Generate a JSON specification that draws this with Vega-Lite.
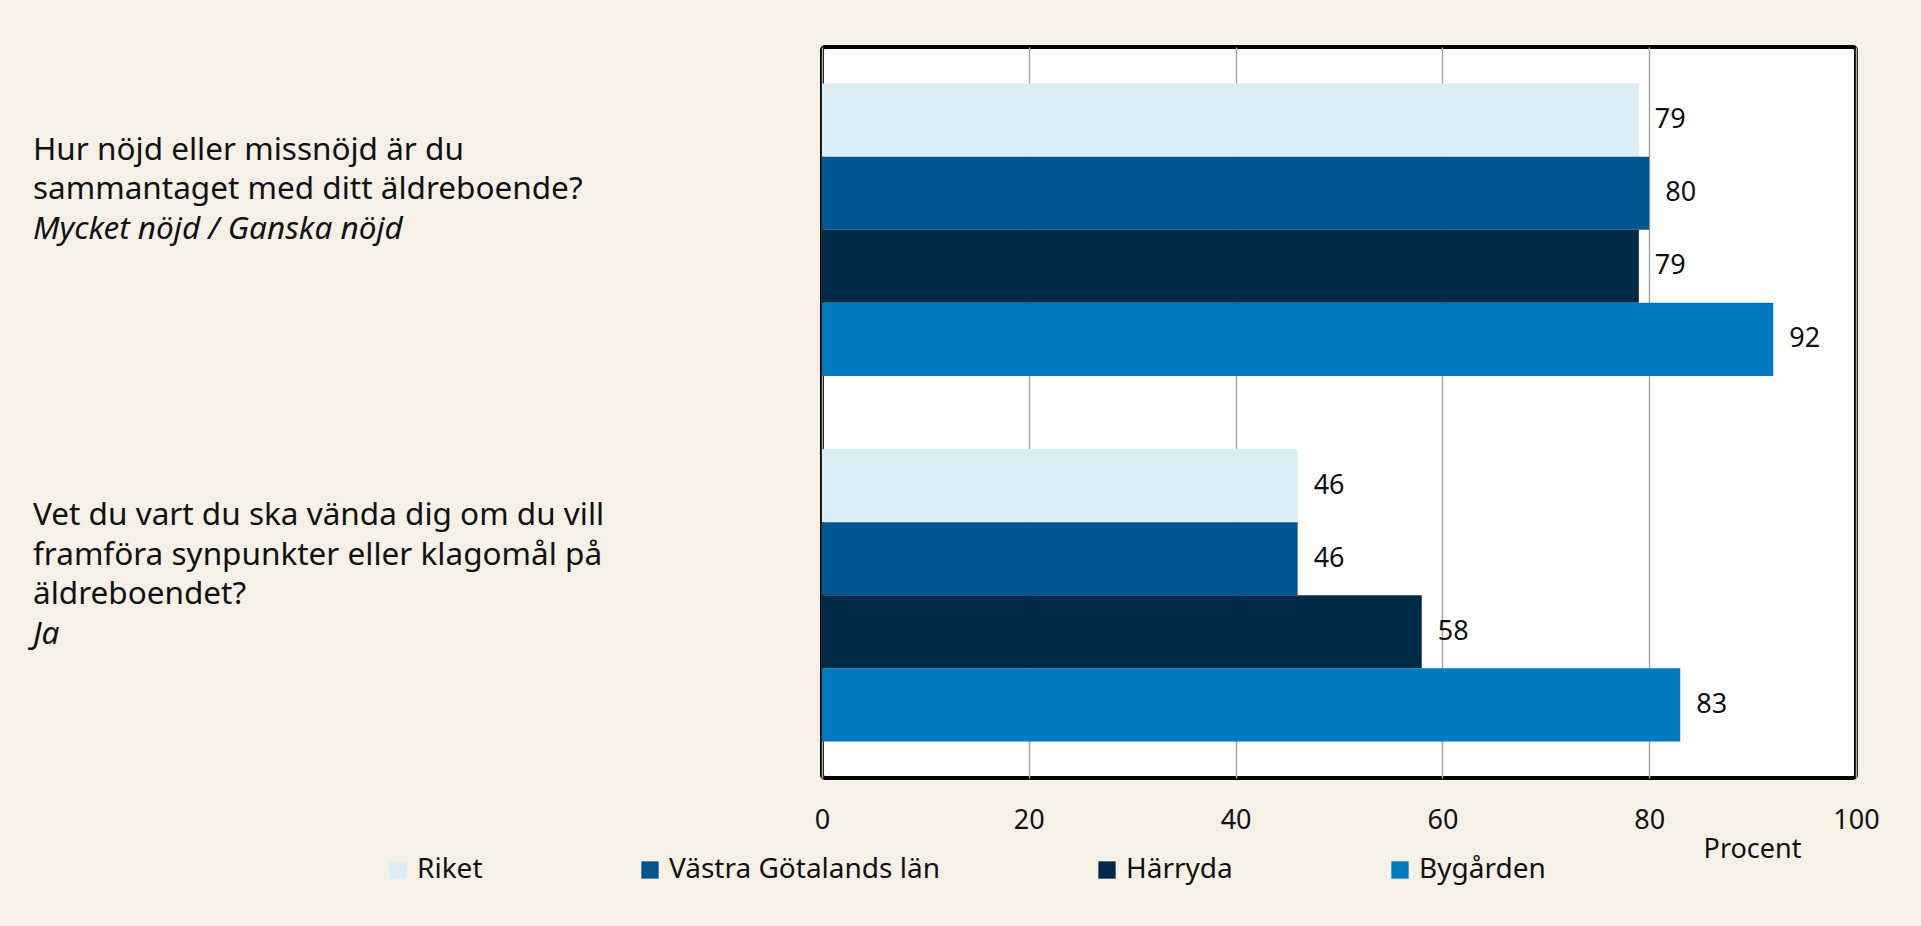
{
  "$schema": "https://vega.github.io/schema/vega-lite/v6.json",
  "background": "#f7f0e7",
  "padding": {"left": 33, "top": 45, "right": 60, "bottom": 80},
  "config": {
    "font": "Noto Sans",
    "text": {"font": "Noto Sans"},
    "concat": {"spacing": 20}
  },
  "resolve": {"scale": {"x": "independent", "y": "independent", "yOffset": "independent"}},
  "datasets": {
    "bars": [
      {"question": "Q1", "serie": "Riket", "value": 79},
      {"question": "Q1", "serie": "Västra Götalands län", "value": 80},
      {"question": "Q1", "serie": "Härryda", "value": 79},
      {"question": "Q1", "serie": "Bygården", "value": 92},
      {"question": "Q2", "serie": "Riket", "value": 46},
      {"question": "Q2", "serie": "Västra Götalands län", "value": 46},
      {"question": "Q2", "serie": "Härryda", "value": 58},
      {"question": "Q2", "serie": "Bygården", "value": 83}
    ],
    "labels": [
      {"question": "Q1", "line": 0, "part": "fråga", "text": "Hur nöjd eller missnöjd är du"},
      {"question": "Q1", "line": 1, "part": "fråga", "text": "sammantaget med ditt äldreboende?"},
      {"question": "Q1", "line": 2, "part": "svar", "text": "Mycket nöjd / Ganska nöjd"},
      {"question": "Q2", "line": 0, "part": "fråga", "text": "Vet du vart du ska vända dig om du vill"},
      {"question": "Q2", "line": 1, "part": "fråga", "text": "framföra synpunkter eller klagomål på"},
      {"question": "Q2", "line": 2, "part": "fråga", "text": "äldreboendet?"},
      {"question": "Q2", "line": 3, "part": "svar", "text": "Ja"}
    ]
  },
  "hconcat": [
    {
      "width": 759,
      "height": 731,
      "view": {"stroke": null, "fill": null},
      "data": {"name": "labels"},
      "encoding": {
        "y": {"field": "question", "type": "nominal", "axis": null,
              "scale": {"domain": ["Q1", "Q2"], "paddingInner": 0.2, "paddingOuter": 0.1}},
        "yOffset": {"field": "line", "type": "ordinal",
              "scale": {"domain": [-1, 0, 1, 2, 3, 4, 5], "paddingInner": 0, "paddingOuter": 0.69}},
        "x": {"datum": 0, "type": "quantitative", "scale": {"domain": [0, 1]}, "axis": null},
        "text": {"field": "text", "type": "nominal"}
      },
      "layer": [
        {
          "transform": [{"filter": "datum.part === 'fråga'"}],
          "mark": {"type": "text", "align": "left", "baseline": "middle", "fontSize": 31.5, "color": "#111111"}
        },
        {
          "transform": [{"filter": "datum.part === 'svar'"}],
          "mark": {"type": "text", "align": "left", "baseline": "middle", "fontSize": 31.5, "fontStyle": "italic", "color": "#111111"}
        }
      ]
    },
    {
      "width": 1034,
      "height": 731,
      "view": {"fill": "white", "stroke": "black", "strokeWidth": 4, "cornerRadius": 3},
      "data": {"name": "bars"},
      "encoding": {
        "y": {"field": "question", "type": "nominal", "axis": null,
              "scale": {"domain": ["Q1", "Q2"], "paddingInner": 0.2, "paddingOuter": 0.1}},
        "yOffset": {"field": "serie", "type": "nominal",
              "scale": {"domain": ["Riket", "Västra Götalands län", "Härryda", "Bygården"], "paddingInner": 0, "paddingOuter": 0}},
        "x": {"field": "value", "type": "quantitative",
              "scale": {"domain": [0, 100], "nice": false},
              "axis": {"values": [0, 20, 40, 60, 80, 100], "title": "Procent",
                       "grid": true, "gridColor": "#a8a8a8", "gridWidth": 1.5,
                       "domain": false, "ticks": false, "tickSize": 0,
                       "labelFont": "Noto Sans", "labelFontSize": 27, "labelColor": "#111111",
                       "labelPadding": 29, "labelFlush": false,
                       "titleFont": "Noto Sans", "titleFontSize": 27, "titleFontWeight": "normal", "titleColor": "#111111",
                       "titleX": 930, "titleY": 79, "titleAlign": "center", "titleBaseline": "alphabetic"}}
      },
      "layer": [
        {
          "mark": {"type": "bar"},
          "encoding": {
            "color": {"field": "serie", "type": "nominal",
                      "scale": {"domain": ["Riket", "Västra Götalands län", "Härryda", "Bygården"],
                                "range": ["#dbeef5", "#01568f", "#002a45", "#0079bf"]},
                      "legend": {"orient": "none", "legendX": 351, "legendY": 809, "direction": "horizontal", "columns": 4,
                                 "title": null, "symbolType": "square", "symbolSize": 300, "symbolStrokeWidth": 0,
                                 "labelFont": "Noto Sans", "labelFontSize": 28, "labelColor": "#111111", "labelOffset": 5,
                                 "columnPadding": 153, "labelLimit": 500}}
          }
        },
        {
          "mark": {"type": "text", "align": "left", "baseline": "middle", "dx": 16, "fontSize": 27, "color": "#111111"},
          "encoding": {"text": {"field": "value", "type": "quantitative"}}
        }
      ]
    }
  ]
}
